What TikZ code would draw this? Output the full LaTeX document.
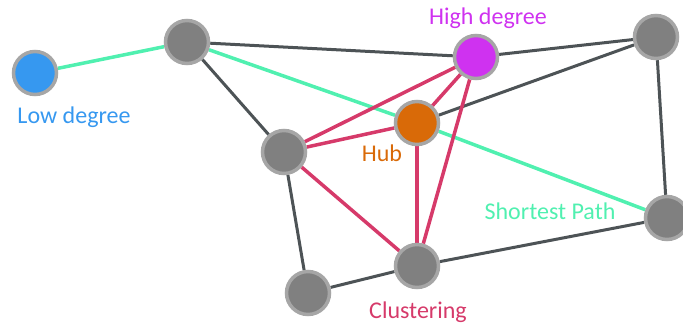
\documentclass[tikz,border=0pt]{standalone}
\usepackage{fontspec}
\setmainfont{Carlito}
\usetikzlibrary{backgrounds}
\definecolor{nodegray}{HTML}{808080}
\definecolor{nodering}{HTML}{A6A6A6}
\definecolor{lowblue}{HTML}{3698F0}
\definecolor{highpink}{HTML}{CF32F0}
\definecolor{huborange}{HTML}{D96A08}
\definecolor{pathgreen}{HTML}{50F0B0}
\definecolor{clusterred}{HTML}{D63A6A}
\definecolor{edgegray}{HTML}{4D5356}
\tikzset{
	vertex/.style={circle, inner sep=0pt, minimum size=43pt,
			draw=nodering, line width=3.5pt, fill=#1},
	vertex/.default=nodegray,
	plain/.style={line width=3pt, edgegray},
	shortest/.style={line width=3.5pt, pathgreen},
	cluster/.style={line width=3.5pt, clusterred},
	tag/.style={font=\fontsize{24}{28}\selectfont, inner sep=0pt}
}

\begin{document}
\begin{tikzpicture}[x=1pt, y=-1pt]
		\useasboundingbox (0,0) rectangle (683,327);

		% vertices
		\node [vertex=lowblue]		(low)		at (35,73)	{};
		\node [vertex]				(topleft)	at (187,42)	{};
		\node [vertex=highpink]		(high)		at (476,57)	{};
		\node [vertex]				(topright)	at (656,37)	{};
		\node [vertex=huborange]	(hub)		at (417,123) {};
		\node [vertex]				(midleft)	at (284,152) {};
		\node [vertex]				(right)		at (667,218) {};
		\node [vertex]				(bottom)	at (417,266) {};
		\node [vertex]				(botleft)	at (308,293) {};

		% labels
		\node [tag, lowblue]	(lowtag)	at (74,117)	{Low degree};
		\node [tag, highpink]	(hightag)	at (488,18)	{High degree};
		\node [tag, huborange]	(hubtag)	at (382,153) {Hub};
		\node [tag, clusterred]	(clustag)	at (418,312) {Clustering};
		\node [tag, pathgreen]	(pathtag)	at (550,211) {Shortest Path};

		\begin{scope}[on background layer]
			\draw [shortest]	(low) -- (topleft);
			\draw [shortest]	(topleft) -- (hub) -- (right);

			\draw [plain]	(topleft) -- (high);
			\draw [plain]	(topleft) -- (midleft);
			\draw [plain]	(high) -- (topright);
			\draw [plain]	(hub) -- (topright);
			\draw [plain]	(topright) -- (right);
			\draw [plain]	(midleft) -- (botleft);
			\draw [plain]	(botleft) -- (bottom);
			\draw [plain]	(bottom) -- (right);

			\draw [cluster]	(midleft) -- (high);
			\draw [cluster]	(midleft) -- (hub);
			\draw [cluster]	(midleft) -- (bottom);
			\draw [cluster]	(hub) -- (high);
			\draw [cluster]	(hub) -- (bottom);
			\draw [cluster]	(high) -- (bottom);
		\end{scope}
	\end{tikzpicture}
\end{document}
